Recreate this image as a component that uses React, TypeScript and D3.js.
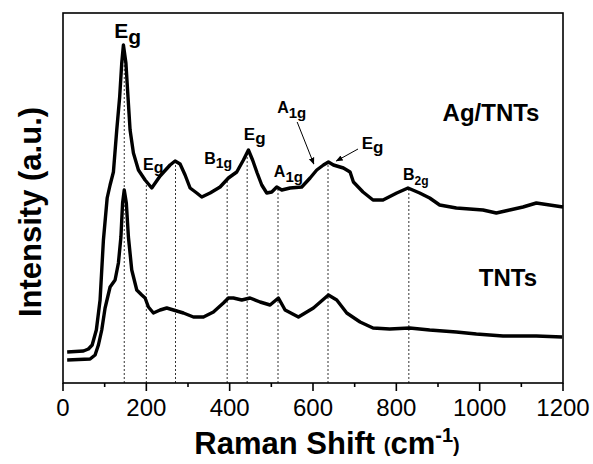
import React from 'react';
import * as d3 from 'd3';

// Raman spectra (x: cm-1, y: arbitrary intensity)
const agShift = [10, 49, 61, 70, 80, 89, 97, 106, 113, 121, 129, 136, 141, 145, 151, 156, 161, 169, 181, 197, 213, 233, 257, 269, 281, 293, 305, 321, 333, 353, 377, 397, 417, 433, 445, 455, 466, 477, 489, 501, 513, 525, 545, 573, 593, 609, 625, 637, 649, 673, 689, 697, 720, 744, 768, 801, 828, 856, 880, 904, 944, 976, 1008, 1040, 1072, 1104, 1136, 1168, 1200];
const agIntensity = [31, 32, 34, 38, 53, 83, 143, 185, 198, 211, 253, 286, 320, 338, 320, 286, 253, 230, 213, 203, 195, 207, 218, 222, 219, 208, 195, 190, 186, 190, 196, 205, 211, 223, 233, 223, 210, 198, 190, 191, 196, 193, 195, 196, 205, 213, 218, 221, 218, 215, 211, 201, 191, 183, 183, 190, 195, 190, 185, 178, 175, 174, 173, 170, 173, 176, 180, 178, 176];

const tntShift = [10, 65, 77, 85, 93, 101, 113, 125, 133, 139, 143, 147, 152, 157, 165, 177, 189, 197, 205, 217, 233, 249, 265, 289, 313, 337, 361, 385, 397, 409, 429, 449, 473, 497, 517, 533, 565, 601, 637, 657, 681, 713, 744, 784, 832, 880, 944, 992, 1056, 1136, 1198];
const tntIntensity = [23, 24, 28, 38, 53, 75, 96, 103, 120, 146, 180, 193, 180, 146, 113, 93, 88, 85, 76, 70, 73, 75, 73, 70, 66, 66, 71, 80, 85, 85, 83, 85, 81, 78, 85, 73, 66, 75, 88, 83, 70, 61, 55, 54, 55, 53, 51, 49, 47, 47, 46];

const modePositions = [147, 200, 270, 394, 442, 516, 636, 830];
const xTicks = [0, 200, 400, 600, 800, 1000, 1200];
const xMinorTicks = [100, 300, 500, 700, 900, 1100];

// mode labels: main letter + subscript, anchored in data units
const modeLabels = [
  { main: 'E', sub: 'g', x: 123, y: 345, size: 21, subSize: 21, drop: 6 },
  { main: 'E', sub: 'g', x: 192, y: 213, size: 16, subSize: 16, drop: 3 },
  { main: 'B', sub: '1g', x: 339, y: 219, size: 16, subSize: 14, drop: 4 },
  { main: 'E', sub: 'g', x: 434, y: 243, size: 17, subSize: 17, drop: 4 },
  { main: 'A', sub: '1g', x: 506, y: 206, size: 16, subSize: 15, drop: 5 },
  { main: 'A', sub: '1g', x: 514, y: 270, size: 16, subSize: 15, drop: 5 },
  { main: 'E', sub: 'g', x: 717, y: 234, size: 17, subSize: 17, drop: 4 },
  { main: 'B', sub: '2g', x: 816, y: 203, size: 16, subSize: 12, drop: 5 },
];

const arrows = [
  { x1: 562, y1: 261, x2: 602, y2: 219 },
  { x1: 708, y1: 234, x2: 656, y2: 222 },
];

const seriesLabels = [
  { text: 'Ag/TNTs', x: 911, y: 262 },
  { text: 'TNTs', x: 998, y: 97 },
];

const W = 593;
const H = 464;
const margin = { top: 13, right: 30, bottom: 81, left: 63 };
const FONT = '"Liberation Sans", Arial, Helvetica, sans-serif';

export default function App() {
  const innerW = W - margin.left - margin.right;
  const innerH = H - margin.top - margin.bottom;

  const x = d3.scaleLinear().domain([0, 1200]).range([0, innerW]);
  const y = d3.scaleLinear().domain([0, 370]).range([innerH, 0]);

  const ag = agShift.map((s, i) => [s, agIntensity[i]] as [number, number]);
  const tnt = tntShift.map((s, i) => [s, tntIntensity[i]] as [number, number]);

  const line = d3.line<[number, number]>()
    .x(d => x(d[0]))
    .y(d => y(d[1]));

  // top of each dashed guide = Ag/TNTs curve at that shift
  const agAt = (s: number) => {
    const i = d3.bisectLeft(agShift, s);
    if (i <= 0) return agIntensity[0];
    const t = (s - agShift[i - 1]) / (agShift[i] - agShift[i - 1]);
    return agIntensity[i - 1] + t * (agIntensity[i] - agIntensity[i - 1]);
  };

  return (
    <svg width={W} height={H} style={{ position: 'absolute', left: 0, top: 0, background: '#fff' }} fontFamily={FONT}>
      <defs>
        <marker id="arr" viewBox="0 0 10 10" refX="9" refY="5" markerWidth="7" markerHeight="7" orient="auto">
          <path d="M0,1 L10,5 L0,9 Z" fill="#000" />
        </marker>
      </defs>
      <g transform={`translate(${margin.left},${margin.top})`}>
        {modePositions.map(p => (
          <line key={p} x1={x(p)} x2={x(p)} y1={innerH} y2={y(agAt(p))}
            stroke="#333" strokeWidth={1} strokeDasharray="2,2" />
        ))}

        <path d={line(tnt) || ''} fill="none" stroke="#000" strokeWidth={3.4} strokeLinejoin="round" />
        <path d={line(ag) || ''} fill="none" stroke="#000" strokeWidth={3.4} strokeLinejoin="round" />

        <rect x={0} y={0} width={innerW} height={innerH} fill="none" stroke="#000" strokeWidth={1.6} />

        {xTicks.map(t => (
          <g key={t}>
            <line x1={x(t)} x2={x(t)} y1={innerH} y2={innerH + 8} stroke="#000" strokeWidth={1.6} />
            <text x={x(t)} y={innerH + 33} textAnchor="middle" fontSize={24}>{t}</text>
          </g>
        ))}
        {xMinorTicks.map(t => (
          <line key={t} x1={x(t)} x2={x(t)} y1={innerH} y2={innerH + 4} stroke="#000" strokeWidth={1.6} />
        ))}

        {modeLabels.map((m, i) => (
          <text key={i} x={x(m.x)} y={y(m.y)} fontWeight="bold" fontSize={m.size}>
            {m.main}
            <tspan fontSize={m.subSize} dy={m.drop}>{m.sub}</tspan>
          </text>
        ))}

        {arrows.map((a, i) => (
          <line key={i} x1={x(a.x1)} y1={y(a.y1)} x2={x(a.x2)} y2={y(a.y2)}
            stroke="#000" strokeWidth={1} markerEnd="url(#arr)" />
        ))}

        {seriesLabels.map(s => (
          <text key={s.text} x={x(s.x)} y={y(s.y)} fontWeight="bold" fontSize={24}>{s.text}</text>
        ))}
      </g>

      <text transform={`translate(41,${margin.top + innerH / 2 + 14}) rotate(-90)`} textAnchor="middle"
        fontWeight="bold" fontSize={31}>Intensity (a.u.)</text>

      <text x={margin.left + innerW / 2 + 14} y={454} textAnchor="middle" fontWeight="bold" fontSize={31}>
        Raman Shift <tspan fontSize={20} dy={-2}>(</tspan><tspan fontSize={31} dy={2}>cm</tspan>
        <tspan fontSize={20} dy={-12}>-1</tspan><tspan fontSize={20} dy={10}>)</tspan>
      </text>
    </svg>
  );
}
